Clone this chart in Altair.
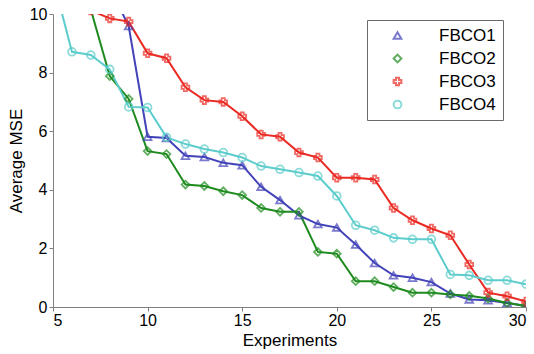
import altair as alt
import pandas as pd

experiments = list(range(5, 31))
series_names = ["FBCO1", "FBCO2", "FBCO3", "FBCO4"]

fbco1 = [None, None, None, 10.9, 9.59, 5.81, 5.77, 5.16, 5.12, 4.92, 4.84, 4.10, 3.65,
         3.13, 2.83, 2.71, 2.13, 1.50, 1.08, 1.00, 0.85, 0.46, 0.26, 0.23, 0.14, 0.03]
fbco2 = [None, None, 10.15, 7.88, 7.10, 5.32, 5.22, 4.18, 4.13, 3.95, 3.82, 3.38, 3.25,
         3.25, 1.88, 1.82, 0.88, 0.88, 0.68, 0.49, 0.49, 0.43, 0.38, 0.29, 0.14, 0.03]
fbco3 = [None, None, 10.12, 9.85, 9.74, 8.66, 8.49, 7.50, 7.06, 7.00, 6.51, 5.89, 5.81,
         5.27, 5.10, 4.41, 4.41, 4.35, 3.38, 2.96, 2.68, 2.45, 1.45, 0.49, 0.37, 0.19]
fbco4 = [11.2, 8.71, 8.60, 8.11, 6.83, 6.81, 5.79, 5.56, 5.39, 5.27, 5.10, 4.81, 4.70,
         4.59, 4.47, 3.79, 2.79, 2.62, 2.36, 2.31, 2.31, 1.11, 1.08, 0.91, 0.91, 0.78]

x_ticks = [5, 10, 15, 20, 25, 30]
y_ticks = [0, 2, 4, 6, 8, 10]

colors = ["#4343b9", "#1e8b1e", "#ea2a23", "#5ccccc"]
shapes = ["triangle-up", "diamond", "cross", "circle"]

rows = []
for name, vals in zip(series_names, [fbco1, fbco2, fbco3, fbco4]):
    for xv, v in zip(experiments, vals):
        if v is not None:
            rows.append({"Experiments": xv, "MSE": v, "Series": name})
df = pd.DataFrame(rows)

GRAY = "#7f7f7f"

base = alt.Chart(df).encode(
    x=alt.X("Experiments:Q", scale=alt.Scale(domain=[5, 30], nice=False, zero=False),
            axis=alt.Axis(values=x_ticks, grid=False, domainColor=GRAY, tickColor=GRAY,
                          tickSize=4, labelPadding=1,
                          labelFontSize=16, labelColor="black", titleFontSize=17,
                          titleFontWeight="normal", titleColor="black",
                          title="Experiments")),
    y=alt.Y("MSE:Q", scale=alt.Scale(domain=[0, 10], nice=False, zero=False),
            axis=alt.Axis(values=y_ticks, grid=False, domainColor=GRAY, tickColor=GRAY,
                          tickSize=4, labelPadding=2,
                          labelFontSize=16, labelColor="black", titleFontSize=17,
                          titleFontWeight="normal", titleColor="black",
                          title="Average MSE")),
    color=alt.Color("Series:N", scale=alt.Scale(domain=series_names, range=colors),
                    legend=alt.Legend(title=None, orient="none", legendX=314, legendY=6,
                                      labelFontSize=17, labelColor="black",
                                      fillColor="white", strokeColor="#6a6a6a",
                                      padding=7, rowPadding=5, symbolSize=60,
                                      symbolStrokeWidth=2, symbolOffset=15,
                                      labelOffset=33)),
)

lines = base.mark_line(strokeWidth=2, clip=True)
points = base.mark_point(size=60, strokeWidth=1.8, clip=True).encode(
    shape=alt.Shape("Series:N", scale=alt.Scale(domain=series_names, range=shapes))
)

chart = alt.layer(lines, points).properties(
    width=473, height=293,
    autosize=alt.AutoSizeParams(type="none"),
    padding={"left": 53, "top": 14, "right": 8, "bottom": 47},
    background="white",
).configure_view(stroke=None)

chart.save("out.html", embed_options={"renderer": "svg", "actions": False})
